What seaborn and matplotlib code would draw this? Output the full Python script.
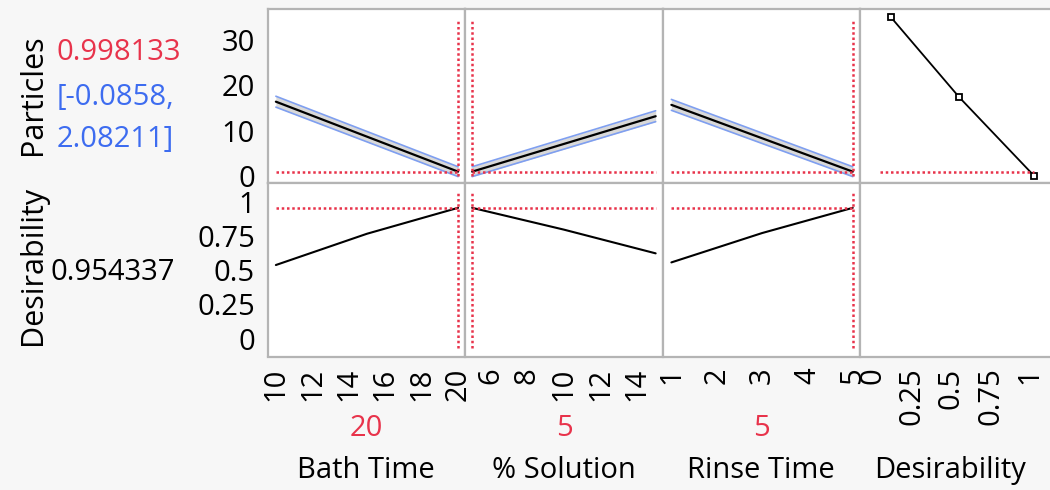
import numpy as np
import pandas as pd
import matplotlib
matplotlib.use('Agg')
import matplotlib.pyplot as plt
from matplotlib.ticker import MultipleLocator
import seaborn as sns

sns.set_theme(style='white')
plt.rcParams['font.family'] = ['Open Sans', 'DejaVu Sans']
plt.rcParams['text.color'] = 'black'

# factor settings and predicted response
factors = ['Bath Time', '% Solution', 'Rinse Time']
current_setting = [20, 5, 5]
particles_pred = 0.998133
particles_ci = [-0.0858, 2.08211]
desirability_pred = 0.954337

# Particles profile traces (ends of each line) with confidence band
bath_time = [10, 20]
bath_particles = [16.4, 1.0]
bath_lower = [15.2, -0.09]
bath_upper = [17.6, 2.08]

solution = [5, 15]
sol_particles = [1.0, 13.2]
sol_lower = [-0.09, 12.0]
sol_upper = [2.08, 14.4]

rinse_time = [1, 5]
rinse_particles = [15.7, 1.0]
rinse_lower = [14.5, -0.09]
rinse_upper = [16.9, 2.08]

# desirability traces
bath_time_d = [10, 15, 20]
bath_desir = [0.537, 0.765, 0.954]
solution_d = [5, 10, 15]
sol_desir = [0.954, 0.795, 0.622]
rinse_time_d = [1, 3, 5]
rinse_desir = [0.556, 0.77, 0.954]

# desirability function for Particles
desir_values = [0.116, 0.549, 1.025]
desir_particles = [35.0, 17.4, 0.07]

RED = '#e8334b'
BLUE = '#3d6cf0'
BAND = '#d9d9d9'
BAND_EDGE = '#7f9ff0'
GRID = '#b4b4b4'
BG = '#f7f7f7'

W, H = 1050, 490
fig = plt.figure(figsize=(10.5, 4.9), dpi=100, facecolor=BG)

lefts = [267.5, 465, 663, 860]
widths = [197.5, 198, 197, 197]
top_row = (183, 9)
bot_row = (356.5, 183)
xlims = [(9.54, 20.38), (4.61, 15.4), (0.815, 5.16), (-0.08, 1.17)]


def make_ax(i, row):
    b, t = row
    ax = fig.add_axes([lefts[i] / W, 1 - b / H, widths[i] / W, (b - t) / H])
    ax.set_facecolor('white')
    for s in ax.spines.values():
        s.set_color(GRID)
        s.set_linewidth(1.6)
    ax.set_xlim(*xlims[i])
    ax.tick_params(colors=GRID, labelcolor='black', labelsize=21,
                   length=6, width=1.2, direction='out')
    ax.tick_params(which='minor', colors=GRID, length=3, width=1.2, direction='out')
    return ax


dotted = dict(color=RED, lw=1.8, linestyle=(0, (1, 1.1)))

traces = [
    (bath_time, bath_particles, bath_lower, bath_upper, bath_time_d, bath_desir),
    (solution, sol_particles, sol_lower, sol_upper, solution_d, sol_desir),
    (rinse_time, rinse_particles, rinse_lower, rinse_upper, rinse_time_d, rinse_desir),
]

top_axes, bot_axes = [], []
for i, (x, y, lo, hi, xd, yd) in enumerate(traces):
    ax = make_ax(i, top_row)
    ax.fill_between(x, lo, hi, color=BAND, lw=0)
    ax.plot(x, lo, color=BAND_EDGE, lw=1.2)
    ax.plot(x, hi, color=BAND_EDGE, lw=1.2)
    sns.lineplot(x=x, y=y, ax=ax, color='black', lw=1.6)
    ax.hlines(particles_pred, min(x), max(x), **dotted)
    ax.vlines(current_setting[i], 0.07, 34.3, **dotted)
    ax.set_ylim(-1.5, 36.8)
    ax.set_xticks([])
    top_axes.append(ax)

    axb = make_ax(i, bot_row)
    sns.lineplot(x=xd, y=yd, ax=axb, color='black', lw=1.5)
    axb.hlines(desirability_pred, min(xd), max(xd), **dotted)
    axb.vlines(current_setting[i], -0.07, 1.06, **dotted)
    axb.set_ylim(-0.13, 1.135)
    bot_axes.append(axb)

# desirability function panel
ax4 = make_ax(3, top_row)
df_desir = pd.DataFrame({'Desirability': desir_values, 'Particles': desir_particles})
sns.lineplot(data=df_desir, x='Desirability', y='Particles', ax=ax4, color='black',
             lw=1.3, marker='s', markersize=5, markerfacecolor='white',
             markeredgecolor='black', markeredgewidth=1.3)
ax4.hlines(particles_pred, 0.05, 1.025, **dotted)
ax4.set_ylim(-1.5, 36.8)
ax4.set_xticks([])
top_axes.append(ax4)

ax4b = make_ax(3, bot_row)
ax4b.set_ylim(-0.13, 1.135)
bot_axes.append(ax4b)

# y ticks only on the first column
for j, ax in enumerate(top_axes):
    if j == 0:
        ax.yaxis.set_major_locator(MultipleLocator(10))
        ax.yaxis.set_minor_locator(MultipleLocator(5))
    else:
        ax.set_yticks([])
for j, ax in enumerate(bot_axes):
    if j == 0:
        ax.set_yticks([0, 0.25, 0.5, 0.75, 1])
        ax.set_yticklabels(['0', '0.25', '0.5', '0.75', '1'])
    else:
        ax.set_yticks([])

# x ticks on the bottom row
bot_axes[0].set_xticks(range(10, 21, 2))
bot_axes[1].set_xticks(range(6, 15, 2))
bot_axes[2].set_xticks([1, 2, 3, 4, 5])
bot_axes[2].xaxis.set_minor_locator(MultipleLocator(0.5))
bot_axes[3].set_xticks([0, 0.25, 0.5, 0.75, 1])
bot_axes[3].set_xticklabels(['0', '0.25', '0.5', '0.75', '1'])
for ax in bot_axes:
    ax.tick_params(axis='x', labelrotation=90, pad=2)
    ax.tick_params(axis='y', pad=3)
top_axes[0].tick_params(axis='y', pad=3)
for ax in top_axes + bot_axes:
    ax.set_xlabel('')
    ax.set_ylabel('')


def ftext(x, y, s, **kw):
    fig.text(x / W, 1 - y / H, s, **kw)


# response labels on the left
ftext(33, 95, 'Particles', rotation=90, ha='center', va='center', fontsize=22)
ftext(57, 53, f'{particles_pred:.6f}', ha='left', va='center', fontsize=21, color=RED)
ftext(57, 97, f'[{particles_ci[0]:.4f},', ha='left', va='center', fontsize=21, color=BLUE)
ftext(57, 139, f'{particles_ci[1]:.5f}]', ha='left', va='center', fontsize=21, color=BLUE)
ftext(33, 265, 'Desirability', rotation=90, ha='center', va='center', fontsize=22)
ftext(50, 272, f'{desirability_pred:.6f}', ha='left', va='center', fontsize=21, color='black')

# factor settings and names below the panels
centers = [366, 564, 761, 950]
for i, name in enumerate(factors):
    ftext(centers[i], 428, str(current_setting[i]), ha='center', va='center', fontsize=21, color=RED)
    ftext(centers[i], 470, name, ha='center', va='center', fontsize=21)
ftext(centers[3], 470, 'Desirability', ha='center', va='center', fontsize=21)

plt.savefig('out.png', dpi=100, facecolor=BG)
